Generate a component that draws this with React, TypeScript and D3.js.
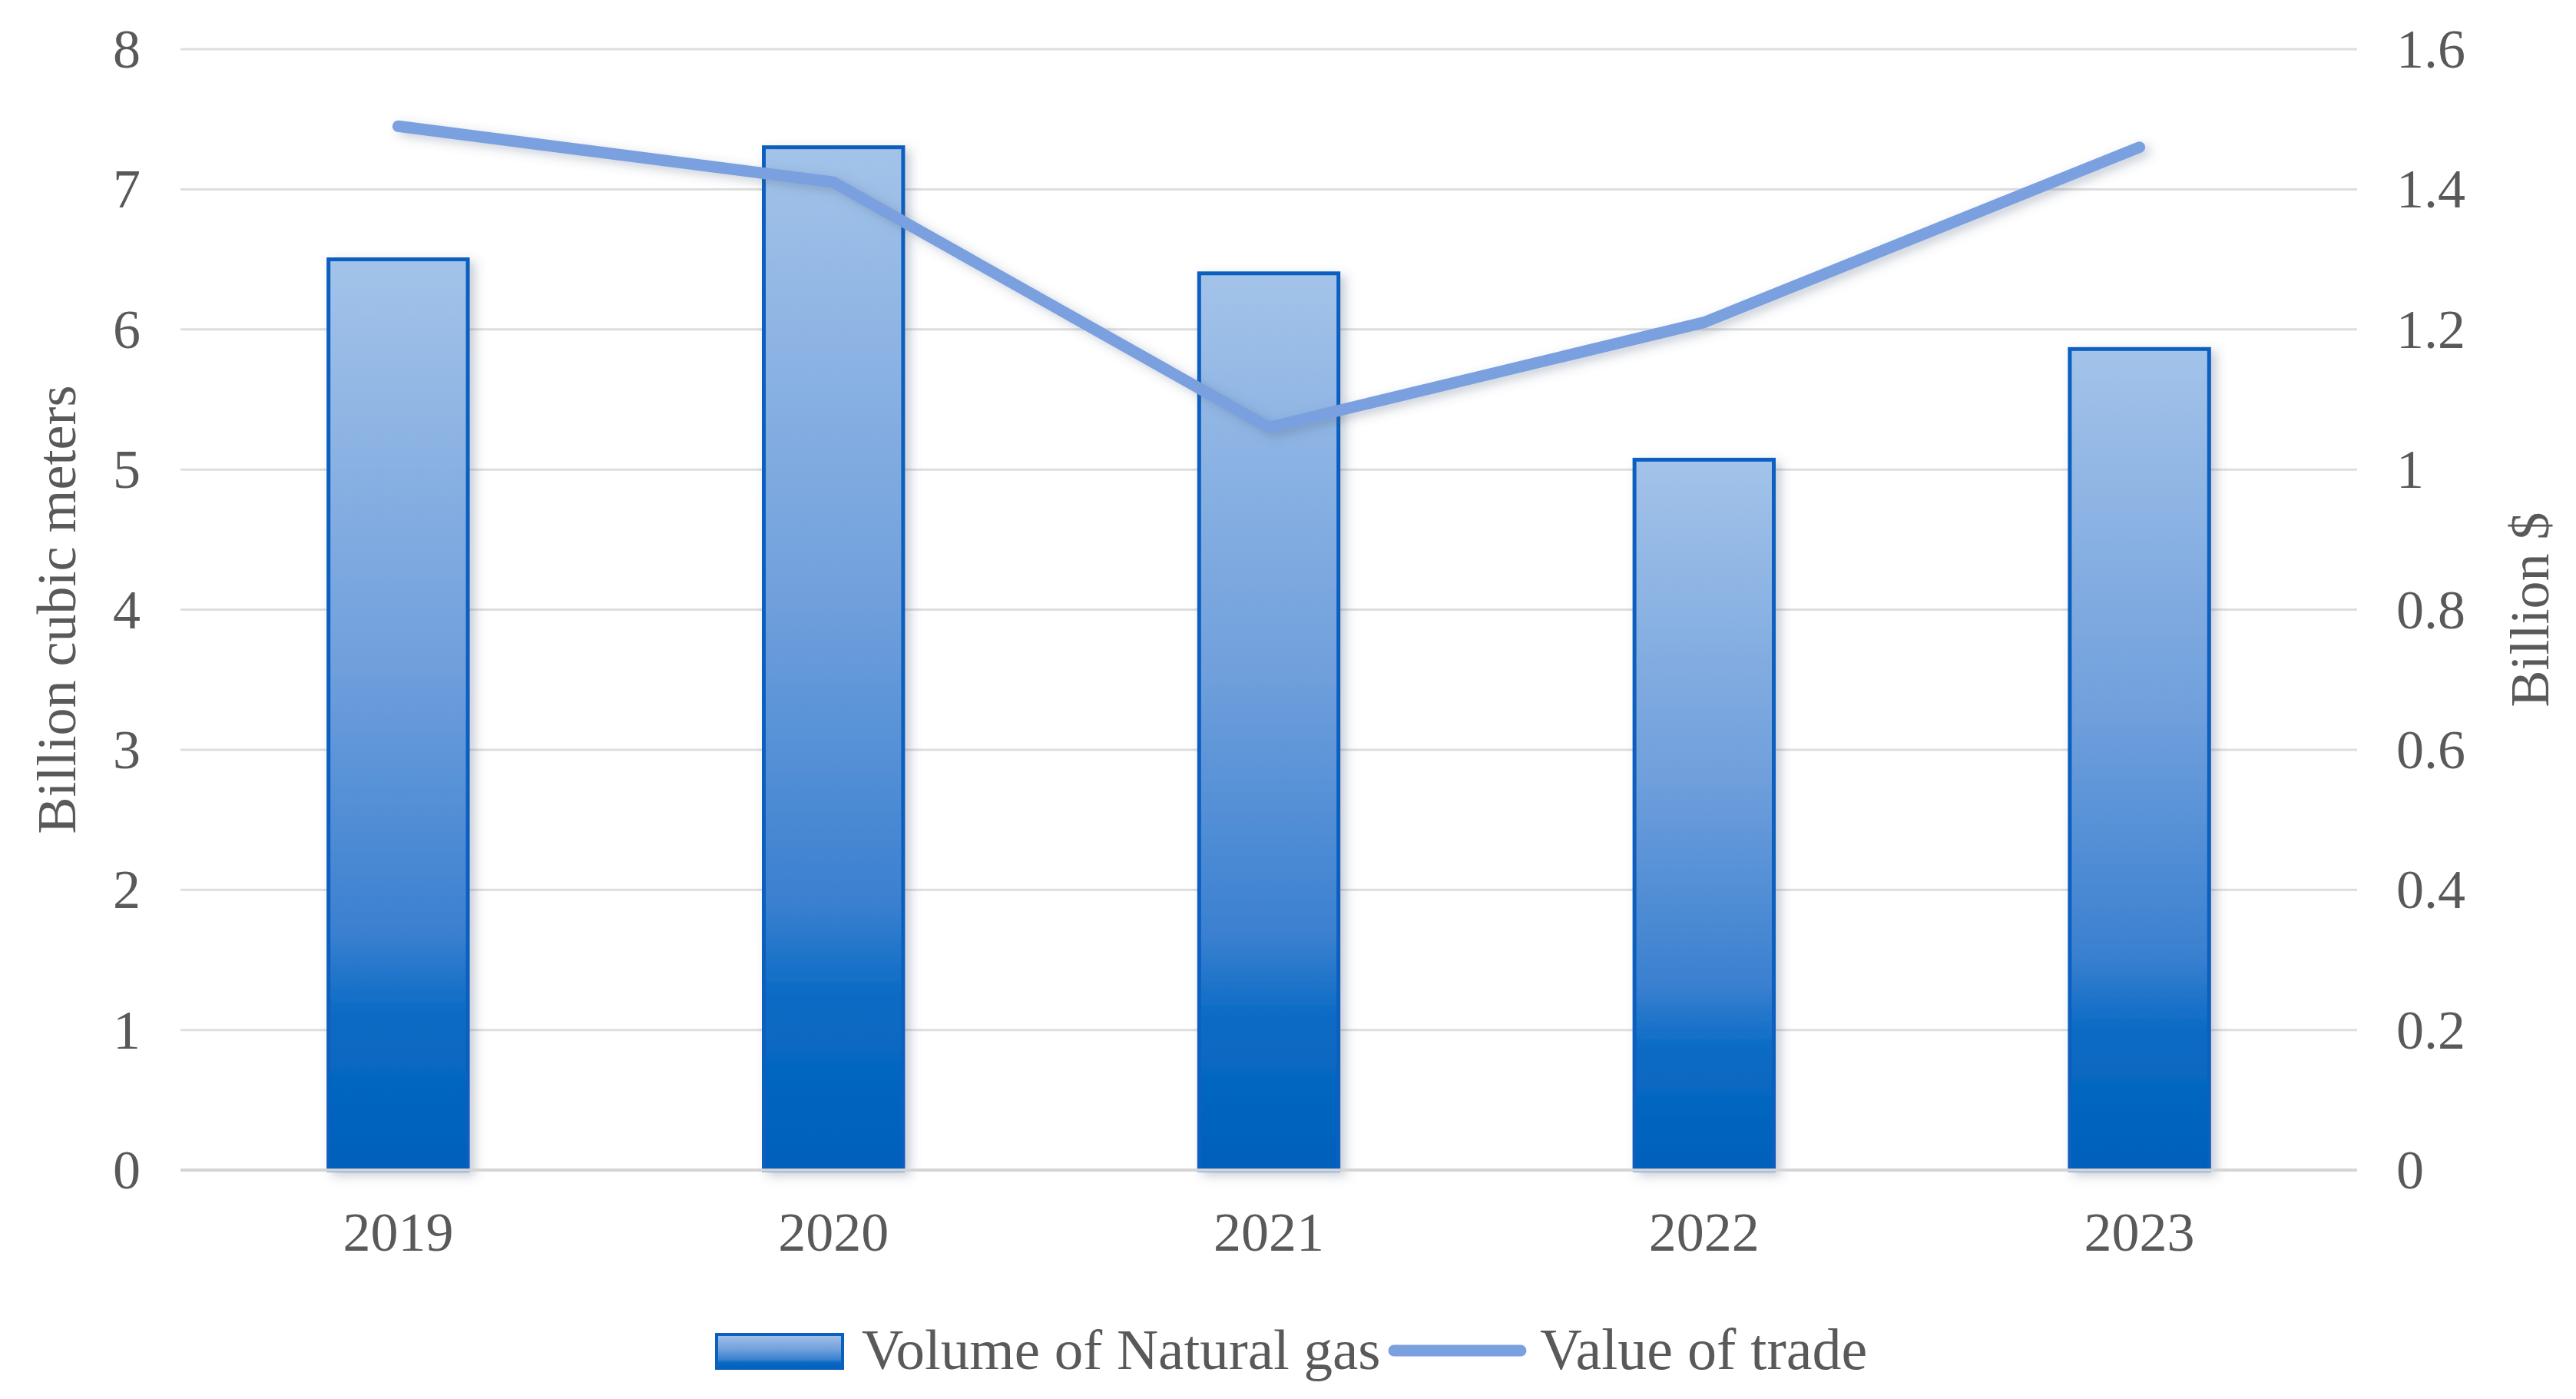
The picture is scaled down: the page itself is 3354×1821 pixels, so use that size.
import { useEffect, useRef } from "react"
import * as d3 from "d3"

const years = ["2019", "2020", "2021", "2022", "2023"]
const gasVolume = [6.5, 7.3, 6.4, 5.07, 5.86]
const tradeValue = [1.49, 1.41, 1.06, 1.21, 1.46]
const leftTicks = [0, 1, 2, 3, 4, 5, 6, 7, 8]
const rightTicks = [0, 0.2, 0.4, 0.6, 0.8, 1, 1.2, 1.4, 1.6]

const W = 3354
const H = 1821
const FONT = "'Liberation Serif', 'Times New Roman', serif"
const TEXT = "#595959"
const LINE = "#7aa0df"

export default function App() {
  const svgRef = useRef<SVGSVGElement>(null)

  useEffect(() => {
    if (!svgRef.current) return
    const svg = d3.select(svgRef.current)
    svg.selectAll("*").remove()

    const left = 235
    const right = 3069
    const top = 64
    const bottom = 1523

    const x = d3.scaleBand().domain(years).range([left, right]).paddingInner(0.68).paddingOuter(0.34)
    const y = d3.scaleLinear().domain([0, 8]).range([bottom, top])
    const y2 = d3.scaleLinear().domain([0, 1.6]).range([bottom, top])

    const defs = svg.append("defs")
    const grad = defs
      .append("linearGradient")
      .attr("id", "barGrad")
      .attr("x1", 0)
      .attr("y1", 0)
      .attr("x2", 0)
      .attr("y2", 1)
    const stops = [
      [0, "#a3c3e9"],
      [0.45, "#6f9fdc"],
      [0.74, "#3a80d0"],
      [0.83, "#0a6bc4"],
      [1, "#0060bb"],
    ]
    stops.forEach(([o, c]) => grad.append("stop").attr("offset", o as number).attr("stop-color", c as string))

    const shadow = defs.append("filter").attr("id", "shadow").attr("x", "-20%").attr("y", "-20%").attr("width", "150%").attr("height", "150%")
    shadow
      .append("feDropShadow")
      .attr("dx", 7)
      .attr("dy", 5)
      .attr("stdDeviation", 7)
      .attr("flood-color", "#4a5a78")
      .attr("flood-opacity", 0.3)

    // gridlines
    svg
      .append("g")
      .selectAll("line")
      .data(leftTicks.filter((d) => d > 0))
      .enter()
      .append("line")
      .attr("x1", left)
      .attr("x2", right)
      .attr("y1", (d) => y(d))
      .attr("y2", (d) => y(d))
      .attr("stroke", "#dedede")
      .attr("stroke-width", 3)

    // bars
    svg
      .append("g")
      .selectAll("rect")
      .data(gasVolume)
      .enter()
      .append("rect")
      .attr("x", (_, i) => x(years[i]) || 0)
      .attr("y", (d) => y(d))
      .attr("width", x.bandwidth())
      .attr("height", (d) => bottom - y(d))
      .attr("fill", "url(#barGrad)")
      .attr("stroke", "#0a5fbf")
      .attr("stroke-width", 5)
      .attr("filter", "url(#shadow)")

    // zero line
    svg
      .append("line")
      .attr("x1", left)
      .attr("x2", right)
      .attr("y1", bottom)
      .attr("y2", bottom)
      .attr("stroke", "#d4d4d4")
      .attr("stroke-width", 4)

    // value line
    const line = d3
      .line<number>()
      .x((_, i) => (x(years[i]) || 0) + x.bandwidth() / 2)
      .y((d) => y2(d))
    svg
      .append("path")
      .datum(tradeValue)
      .attr("d", line)
      .attr("fill", "none")
      .attr("stroke", LINE)
      .attr("stroke-width", 15)
      .attr("stroke-linecap", "round")
      .attr("stroke-linejoin", "round")
      .attr("filter", "url(#shadow)")

    const txt = (g: d3.Selection<any, any, any, any>, size = 72) =>
      g.attr("font-family", FONT).attr("font-size", size).attr("fill", TEXT)

    // left axis labels
    svg
      .append("g")
      .call(txt)
      .attr("text-anchor", "end")
      .selectAll("text")
      .data(leftTicks)
      .enter()
      .append("text")
      .attr("x", 183)
      .attr("y", (d) => y(d) + 24)
      .text((d) => d)

    // right axis labels
    svg
      .append("g")
      .call(txt)
      .attr("text-anchor", "start")
      .selectAll("text")
      .data(rightTicks)
      .enter()
      .append("text")
      .attr("x", 3120)
      .attr("y", (d) => y2(d) + 24)
      .text((d) => d3.format("~g")(d))

    // x labels
    svg
      .append("g")
      .call(txt)
      .attr("text-anchor", "middle")
      .selectAll("text")
      .data(years)
      .enter()
      .append("text")
      .attr("x", (d) => (x(d) || 0) + x.bandwidth() / 2)
      .attr("y", 1628)
      .text((d) => d)

    // axis titles
    svg
      .append("text")
      .call(txt)
      .attr("text-anchor", "middle")
      .attr("transform", `translate(${98},${(top + bottom) / 2}) rotate(-90)`)
      .text("Billion cubic meters")
    svg
      .append("text")
      .call(txt)
      .attr("text-anchor", "middle")
      .attr("transform", `translate(${3318},${(top + bottom) / 2}) rotate(-90)`)
      .text("Billion $")

    // legend
    const lg = svg.append("g")
    lg.append("rect")
      .attr("x", 933)
      .attr("y", 1737)
      .attr("width", 164)
      .attr("height", 44)
      .attr("fill", "url(#barGrad)")
      .attr("stroke", "#0a5fbf")
      .attr("stroke-width", 4)
    lg.append("text").call(txt, 75).attr("x", 1122).attr("y", 1782).text("Volume of Natural gas")
    lg.append("line")
      .attr("x1", 1815)
      .attr("x2", 1980)
      .attr("y1", 1758)
      .attr("y2", 1758)
      .attr("stroke", LINE)
      .attr("stroke-width", 15)
      .attr("stroke-linecap", "round")
    lg.append("text").call(txt, 76).attr("x", 2005).attr("y", 1782).text("Value of trade")
  }, [])

  return (
    <svg
      ref={svgRef}
      width={W}
      height={H}
      viewBox={`0 0 ${W} ${H}`}
      style={{ position: "absolute", left: 0, top: 0, background: "#ffffff" }}
    />
  )
}
